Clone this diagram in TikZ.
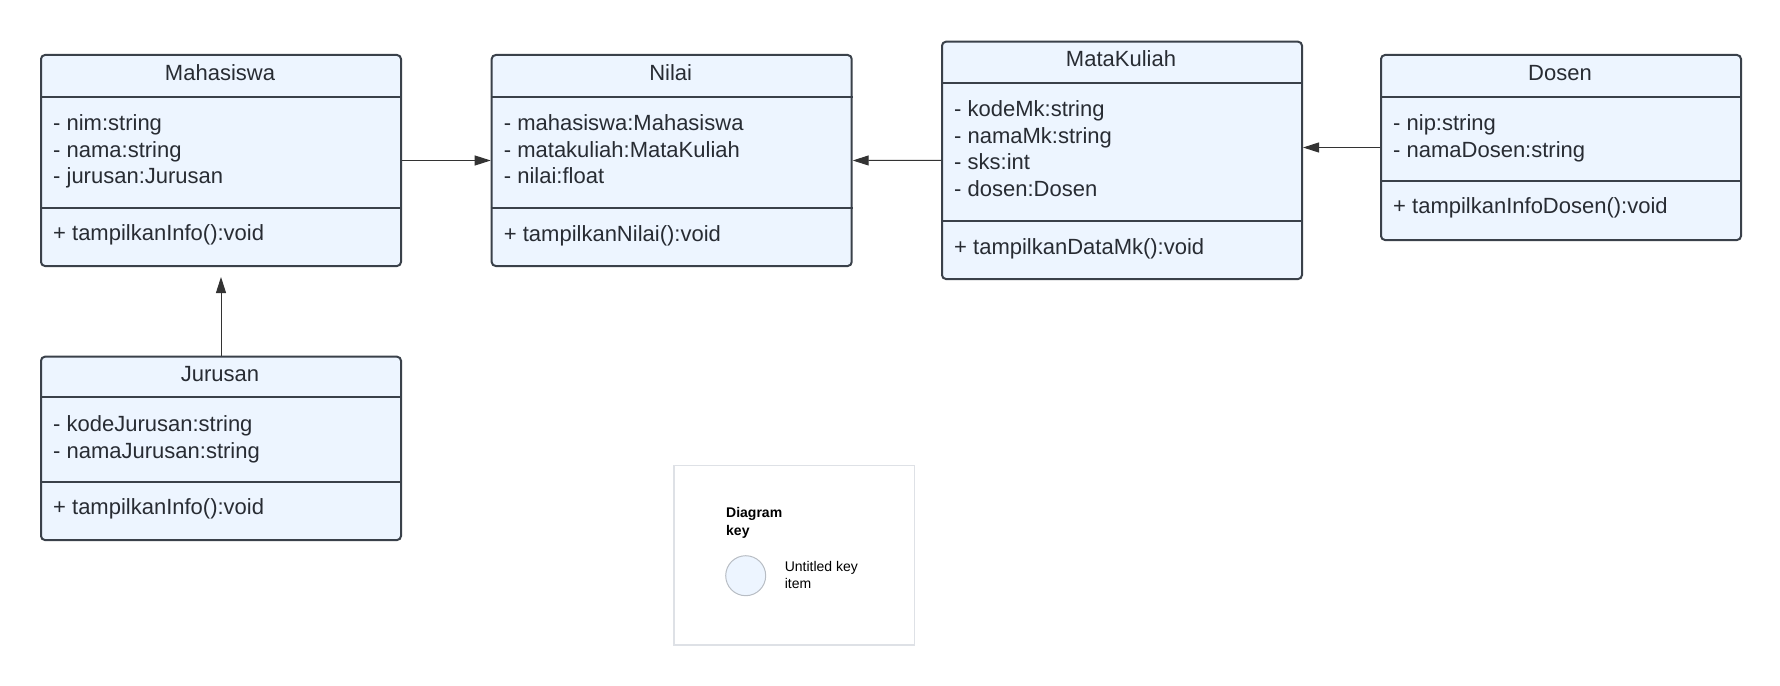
\documentclass[tikz,border=0pt]{standalone}
\usepackage{fontspec}
\setmainfont{Liberation Sans}
\usetikzlibrary{arrows.meta}

\definecolor{boxfill}{RGB}{237,245,255}
\definecolor{boxline}{RGB}{58,65,74}
\definecolor{boxtext}{RGB}{40,44,51}
\definecolor{keyline}{RGB}{222,225,230}
\definecolor{keycircle}{RGB}{184,189,196}

\tikzset{every picture/.style={line width=0.75pt}}
\tikzset{
  classbox/.style={draw=boxline, fill=boxfill, line width=1.5pt, rounded corners=3pt, anchor=north west, inner sep=0pt, minimum width=270pt},
  divider/.style={draw=boxline, line width=1.5pt},
  classname/.style={anchor=base, inner sep=0pt, text=boxtext, font=\fontsize{16.5}{19.9}\selectfont},
  member/.style={anchor=base west, inner sep=0pt, text=boxtext, font=\fontsize{16.5}{19.9}\selectfont},
  assoc/.style={draw=black!80, line width=0.75pt, -{Triangle[length=12pt,width=7.5pt]}},
  keytext/.style={anchor=base west, inner sep=0pt, font=\fontsize{10.5}{13.5}\selectfont},
}

\begin{document}
\begin{tikzpicture}[x=0.75pt,y=0.75pt,yscale=-1,xscale=1]
\useasboundingbox (0,0) rectangle (1780,685);

%Class: Mahasiswa
\node (mhs) [classbox, minimum height=158.25pt] at (40,54) {};
\draw [divider] (mhs.west |- 0,96.7) -- (mhs.east |- 0,96.7) ;
\draw [divider] (mhs.west |- 0,207.7) -- (mhs.east |- 0,207.7) ;
\node (mhs-name) [classname] at (220,80) {Mahasiswa};
\node (mhs-a1) [member] at (52.7,130.5) {- nim:string};
\node (mhs-a2) [member] at (52.7,157) {- nama:string};
\node (mhs-a3) [member] at (52.7,183.5) {- jurusan:Jurusan};
\node (mhs-m1) [member] at (52.7,240.7) {+ tampilkanInfo():void};

%Class: Nilai
\node (nil) [classbox, minimum height=158.25pt] at (490.7,54) {};
\draw [divider] (nil.west |- 0,96.7) -- (nil.east |- 0,96.7) ;
\draw [divider] (nil.west |- 0,208) -- (nil.east |- 0,208) ;
\node (nil-name) [classname] at (670.7,80) {Nilai};
\node (nil-a1) [member] at (503.4,130.5) {- mahasiswa:Mahasiswa};
\node (nil-a2) [member] at (503.4,157) {- matakuliah:MataKuliah};
\node (nil-a3) [member] at (503.4,183.5) {- nilai:float};
\node (nil-m1) [member] at (503.4,241) {+ tampilkanNilai():void};

%Class: MataKuliah
\node (mk) [classbox, minimum height=178pt] at (941,40.7) {};
\draw [divider] (mk.west |- 0,82.7) -- (mk.east |- 0,82.7) ;
\draw [divider] (mk.west |- 0,221) -- (mk.east |- 0,221) ;
\node (mk-name) [classname] at (1121,66.7) {MataKuliah};
\node (mk-a1) [member] at (953.7,116.7) {- kodeMk:string};
\node (mk-a2) [member] at (953.7,143.2) {- namaMk:string};
\node (mk-a3) [member] at (953.7,169.7) {- sks:int};
\node (mk-a4) [member] at (953.7,196.2) {- dosen:Dosen};
\node (mk-m1) [member] at (953.7,254) {+ tampilkanDataMk():void};

%Class: Dosen
\node (dsn) [classbox, minimum height=138.75pt] at (1380,54) {};
\draw [divider] (dsn.west |- 0,96.7) -- (dsn.east |- 0,96.7) ;
\draw [divider] (dsn.west |- 0,180.7) -- (dsn.east |- 0,180.7) ;
\node (dsn-name) [classname] at (1560,80) {Dosen};
\node (dsn-a1) [member] at (1392.7,130.5) {- nip:string};
\node (dsn-a2) [member] at (1392.7,157) {- namaDosen:string};
\node (dsn-m1) [member] at (1392.7,213.7) {+ tampilkanInfoDosen():void};

%Class: Jurusan
\node (jrs) [classbox, minimum height=137.5pt] at (40,355.7) {};
\draw [divider] (jrs.west |- 0,397.3) -- (jrs.east |- 0,397.3) ;
\draw [divider] (jrs.west |- 0,481.7) -- (jrs.east |- 0,481.7) ;
\node (jrs-name) [classname] at (220,381.7) {Jurusan};
\node (jrs-a1) [member] at (52.7,431.5) {- kodeJurusan:string};
\node (jrs-a2) [member] at (52.7,458) {- namaJurusan:string};
\node (jrs-m1) [member] at (52.7,514.7) {+ tampilkanInfo():void};

%Associations
\draw [assoc] (mhs.east) -- (nil.west) ;
\draw [assoc] (mk.west) -- (nil.east) ;
\draw [assoc] (dsn.west) -- (dsn.west -| mk.east) ;
\draw [assoc, shorten >=7.5pt] (jrs.north) -- (mhs.south) ;

%Diagram key
\node (key) [draw=keyline, line width=1.1pt, anchor=north west, inner sep=0pt, minimum width=180.5pt, minimum height=134.5pt] at (673.3,465) {};
\node (key-title1) [keytext, font=\bfseries\fontsize{10.5}{13.5}\selectfont] at (725.7,517.7) {Diagram};
\node (key-title2) [keytext, font=\bfseries\fontsize{10.5}{13.5}\selectfont] at (725.7,535.7) {key};
\node (key-item) [circle, draw=keycircle, fill=boxfill, line width=0.75pt, inner sep=0pt, minimum size=30pt] at (745.7,575.7) {};
\node (key-label1) [keytext] at (784.3,571) {Untitled key};
\node (key-label2) [keytext] at (784.3,588.3) {item};

\end{tikzpicture}
\end{document}
